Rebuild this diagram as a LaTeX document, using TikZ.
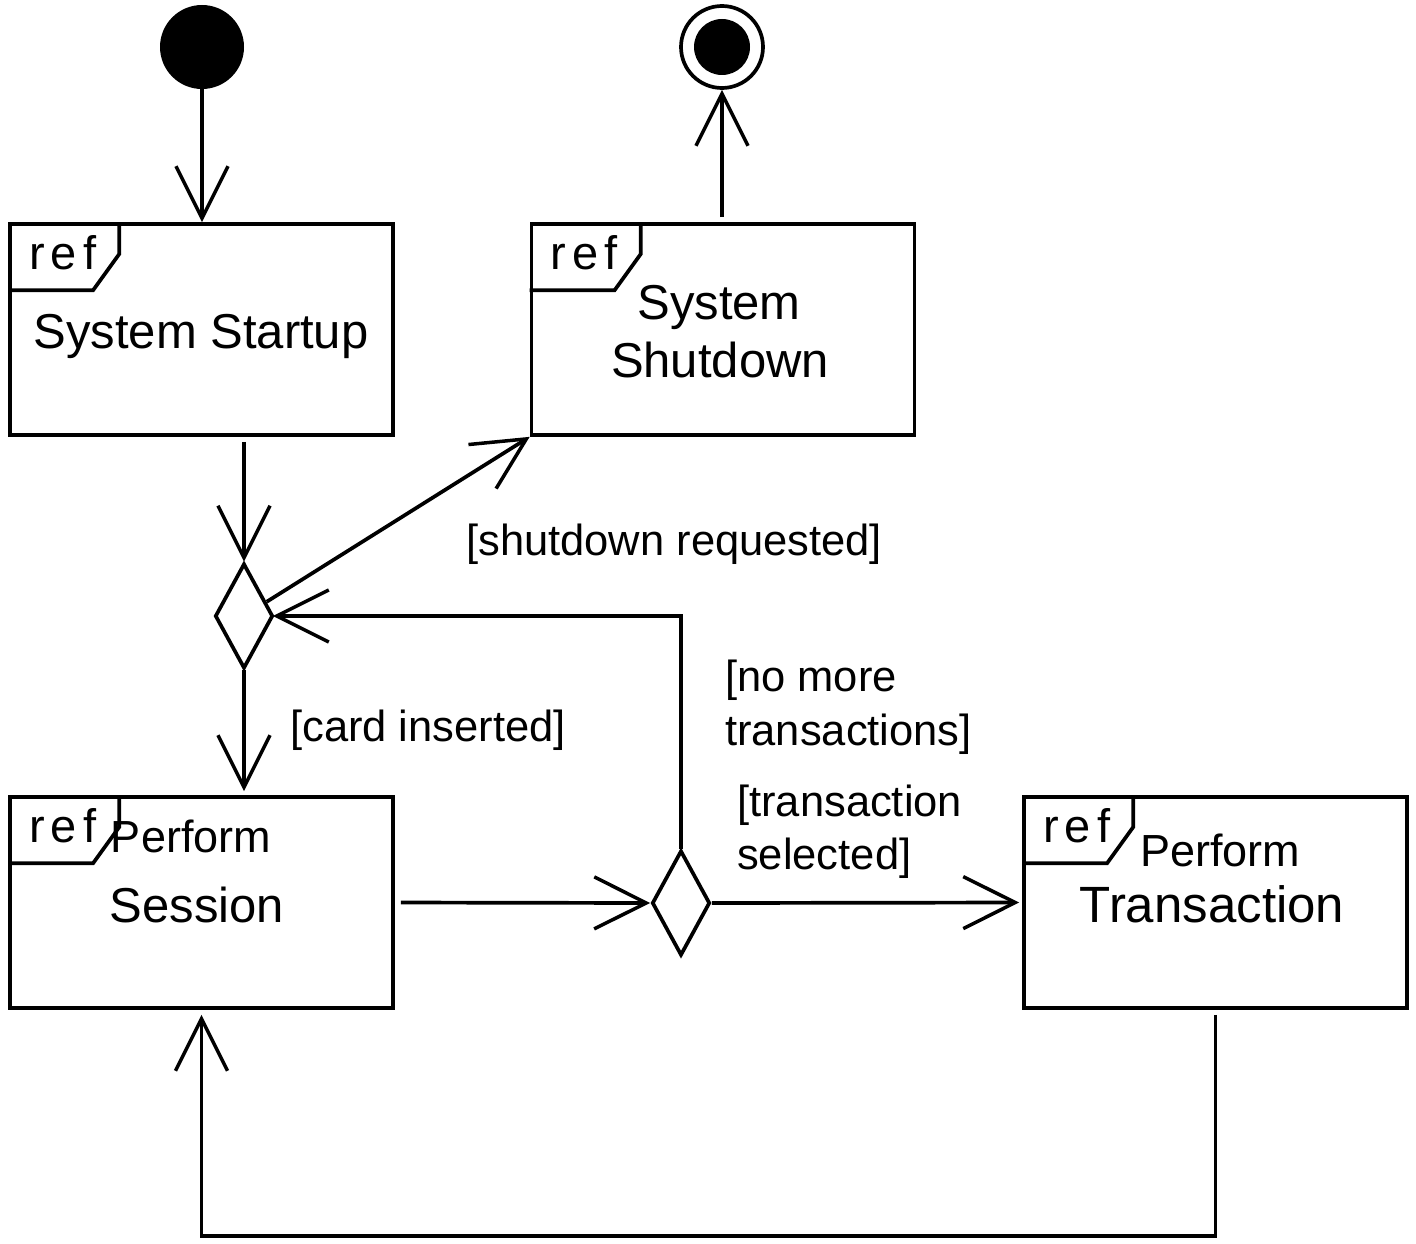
\documentclass[tikz,border=0pt]{standalone}
\usepackage{fontspec}
\setmainfont{Liberation Sans}
\usetikzlibrary{arrows.meta,shapes.geometric}
\tikzset{
  lw/.style={line width=3.7pt},
  box/.style={draw, lw, rectangle, minimum width=383pt, minimum height=211pt, inner sep=0pt},
  dec/.style={draw, lw, diamond, minimum width=58pt, minimum height=105pt, inner sep=0pt},
  arr/.style={lw, -{Straight Barb[length=52pt,width=52pt,line width=3.5pt]}},
  boxtxt/.style={inner sep=0pt, anchor=base, font=\fontsize{49}{58}\selectfont},
  lbl/.style={inner sep=0pt, anchor=base west, font=\fontsize{43.5}{54}\selectfont},
  reftxt/.style={inner sep=0pt, anchor=base west, font=\fontsize{47}{56}\selectfont},
}
\newcommand{\reftab}[1]{%
  \draw[lw] (#1.north west) ++(111,0) -- ++(0,32) -- ++(-26,36) -- ++(-85,0);
  \node[reftxt] (#1ref) at ([xshift=21pt,yshift=-47pt]#1.north west) {r\hspace{6pt}e\hspace{6pt}f};
}
\begin{document}
\begin{tikzpicture}[x=1pt,y=-1pt]
\useasboundingbox (0,0) rectangle (1416,1244);
% start / end
\node[circle, fill=black, minimum size=84pt, inner sep=0pt] (init) at (202,47) {};
\node[circle, draw, lw, minimum size=82pt, inner sep=0pt] (final) at (722,47) {};
\node[circle, fill=black, minimum size=56pt, inner sep=0pt] (finalin) at (722,47) {};
% boxes
\node[box] (startup) at (201.5,329.5) {};
\node[box] (shutdown) at (723,329.5) {};
\node[box] (session) at (201.5,902.5) {};
\node[box] (trans) at (1215.5,902.5) {};
\reftab{startup}
\reftab{shutdown}
\reftab{session}
\reftab{trans}
% texts in boxes
\node[boxtxt] (t1) at (201,348) {System Startup};
\node[boxtxt] (t2a) at (719,319) {System};
\node[boxtxt] (t2b) at (720,377) {Shutdown};
\node[boxtxt, font=\fontsize{45}{54}\selectfont] (t3a) at (191,852) {Perform};
\node[boxtxt] (t3b) at (197,922) {Session};
\node[boxtxt, font=\fontsize{45}{54}\selectfont] (t4a) at (1220,866) {Perform};
\node[boxtxt, font=\fontsize{51}{60}\selectfont] (t4b) at (1212,922) {Transaction};
% decisions
\node[dec] (d1) at (244,616) {};
\node[dec] (d2) at (681,903) {};
% labels
\node[lbl] (l1) at (466,555) {[shutdown requested]};
\node[lbl] (l2) at (290,741) {[card inserted]};
\node[lbl] (l3a) at (725,691) {[no more};
\node[lbl] (l3b) at (725,745) {transactions]};
\node[lbl] (l4a) at (737,816) {[transaction};
\node[lbl] (l4b) at (737,869) {selected]};
% connectors
\draw[arr] (init.south) -- (startup.north -| init.south);
\draw[arr, shorten <=5pt] (shutdown.north -| final.south) -- (final.south);
\draw[arr, shorten <=5pt] (startup.south -| d1.north) -- (d1.north);
\draw[arr] (d1) -- (shutdown.south west);
\draw[arr, shorten >=-2pt] (d2.north) |- (d1.east);
\draw[arr, shorten >=4pt] (d1.south) -- (session.north -| d1.south);
\draw[arr, shorten <=6pt] (session.east) -- (d2.west);
\draw[arr, shorten >=3pt] (d2.east) -- (trans.west);
\draw[arr, shorten <=5pt, shorten >=5pt] (trans.south) -- ++(0,226) -| (session.south);
\end{tikzpicture}
\end{document}
